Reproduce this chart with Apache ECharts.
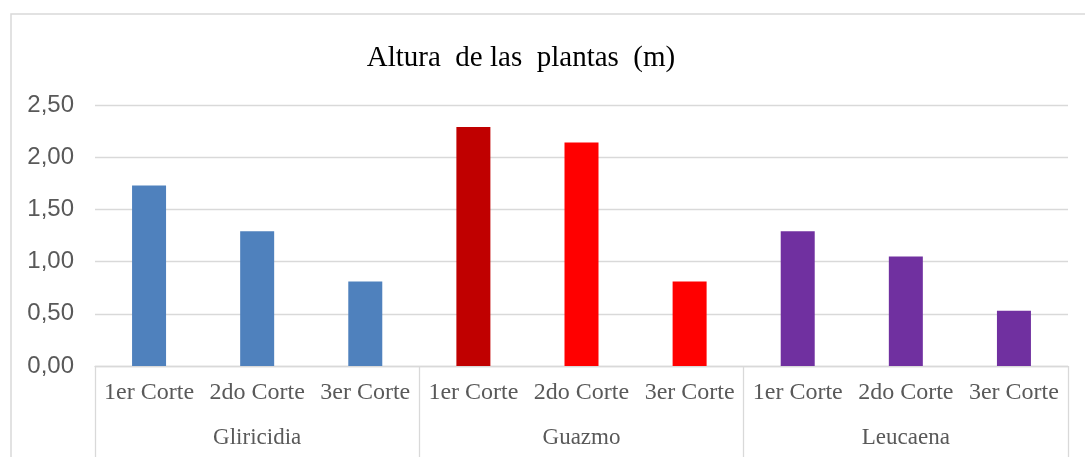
<!DOCTYPE html>
<html>
<head>
<meta charset="utf-8">
<script src="https://cdn.jsdelivr.net/npm/echarts@6/dist/echarts.min.js"></script>
<style>html,body{margin:0;padding:0;background:#fff}#c{width:1085px;height:457px}</style>
</head>
<body>
<div id="c"></div>
<script>
const titleText = 'Altura  de las  plantas  (m)';
const cuts = ['1er Corte', '2do Corte', '3er Corte'];
const groups = ['Gliricidia', 'Guazmo', 'Leucaena'];
const gliricidia = [1.73, 1.29, 0.81];
const guazmo = [2.29, 2.14, 0.81];
const leucaena = [1.29, 1.05, 0.53];
const yTicks = { min: 0, max: 2.5, interval: 0.5 };

const groupColors = [
  ['#4F81BD', '#4F81BD', '#4F81BD'],
  ['#C00000', '#FF0000', '#FF0000'],
  ['#7030A0', '#7030A0', '#7030A0']
];

const categories = [];
const values = [];
[gliricidia, guazmo, leucaena].forEach((arr, g) => {
  arr.forEach((v, i) => {
    categories.push(cuts[i]);
    values.push({ value: v, itemStyle: { color: groupColors[g][i] } });
  });
});

const chart = echarts.init(document.getElementById('c'), null, { renderer: 'canvas' });
const serif = '"Liberation Serif", "Times New Roman", serif';
const sans = '"Liberation Sans", Arial, sans-serif';
chart.setOption({
  animation: false,
  backgroundColor: '#fff',
  graphic: [
    { type: 'rect', shape: { x: 11, y: 14, width: 1200, height: 600 }, style: { fill: null, stroke: '#d9d9d9', lineWidth: 1.5 }, silent: true },
    { type: 'text', x: 521, y: 58, style: { text: titleText, font: '29px ' + serif, fill: '#000', textAlign: 'center', textVerticalAlign: 'middle' } }
  ],
  grid: { left: 95, right: 17, top: 105, bottom: 91, containLabel: false },
  yAxis: {
    type: 'value', min: yTicks.min, max: yTicks.max, interval: yTicks.interval,
    axisLine: { show: false }, axisTick: { show: false },
    splitLine: { lineStyle: { color: '#d9d9d9', width: 1.3 } },
    axisLabel: { color: '#595959', fontFamily: sans, fontSize: 24, margin: 21,
      formatter: v => v.toFixed(2).replace('.', ',') }
  },
  xAxis: [
    {
      type: 'category', data: categories, position: 'bottom', offset: 0,
      axisLine: { lineStyle: { color: '#d9d9d9', width: 1.3 } },
      axisTick: { show: false },
      axisLabel: { color: '#595959', fontFamily: serif, fontSize: 24, margin: 15, interval: 0 }
    },
    {
      type: 'category', data: groups, position: 'bottom', offset: 0,
      axisLine: { show: false },
      axisTick: { show: true, length: 110, lineStyle: { color: '#d9d9d9', width: 1.3 } },
      axisLabel: { color: '#595959', fontFamily: serif, fontSize: 23, margin: 60, interval: 0 }
    }
  ],
  series: [{
    type: 'bar', xAxisIndex: 0, data: values, barWidth: 34
  }]
});
</script>
</body>
</html>
